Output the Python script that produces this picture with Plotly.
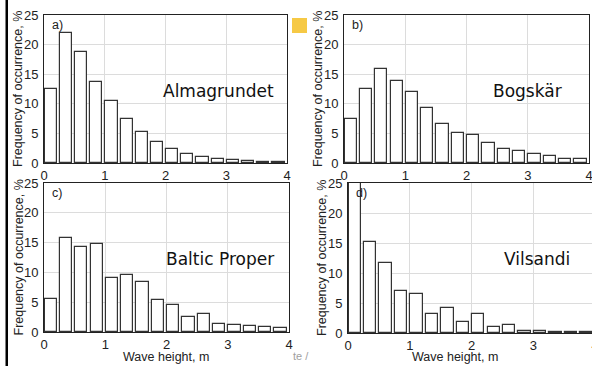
import plotly.graph_objects as go

W, H = 600, 366  # figure is slightly wider than the 592px window; right edge is cropped like the reference

# Wave height bins (left edge, m)
bins = [0.0, 0.25, 0.5, 0.75, 1.0, 1.25, 1.5, 1.75, 2.0, 2.25, 2.5, 2.75, 3.0, 3.25, 3.5, 3.75]

# Frequency of occurrence, %
almagrundet = [12.5, 21.9, 18.7, 13.6, 10.5, 7.4, 5.3, 3.5, 2.4, 1.6, 1.0, 0.7, 0.5, 0.3, 0.15, 0.1]
bogskar = [7.5, 12.5, 15.8, 13.9, 12.0, 9.3, 6.6, 5.1, 4.7, 3.3, 2.4, 2.1, 1.6, 1.2, 0.7, 0.6]
baltic_proper = [5.6, 15.7, 14.3, 14.8, 9.1, 9.5, 8.4, 5.4, 4.6, 2.6, 3.0, 1.3, 1.2, 1.0, 0.85, 0.6]
vilsandi = [30.0, 15.1, 11.6, 7.0, 6.5, 3.2, 4.1, 1.85, 3.1, 0.95, 1.3, 0.35, 0.4, 0.15, 0.2, 0.1]

x_ticks = [0, 1, 2, 3, 4]
y_ticks = [0, 5, 10, 15, 20, 25]

panels = [
    dict(vals=almagrundet, name="Almagrundet", tag="a)", px=(44, 287), py=(15, 163), xtitle=False, nx=276),
    dict(vals=bogskar, name="Bogskär", tag="b)", px=(344, 589), py=(15, 163), xtitle=False, nx=564),
    dict(vals=baltic_proper, name="Baltic Proper", tag="c)", px=(44, 289), py=(183, 332), xtitle=True, nx=276),
    dict(vals=vilsandi, name="Vilsandi", tag="d)", px=(348, 595), py=(183, 333), xtitle=True, nx=572),
]

fig = go.Figure()
font_tick = dict(family="Liberation Sans, Arial, sans-serif", size=13, color="#222")
annotations = []

for i, p in enumerate(panels, start=1):
    xa = "x" if i == 1 else f"x{i}"
    ya = "y" if i == 1 else f"y{i}"
    fig.add_trace(go.Bar(
        x=bins, y=p["vals"], offset=0.01, width=0.2,
        marker=dict(color="white", line=dict(color="#333", width=1.2)),
        xaxis=xa, yaxis=ya, showlegend=False,
    ))
    xd = [p["px"][0] / W, p["px"][1] / W]
    yd = [1 - p["py"][1] / H, 1 - p["py"][0] / H]
    common = dict(showline=True, linecolor="#222", linewidth=1, mirror=True,
                  showgrid=True, gridcolor="#dcdcdc", gridwidth=1, zeroline=False,
                  ticks="", tickfont=font_tick, automargin=False,
                  ticklabeloverflow="allow")
    fig.layout[f"xaxis{i if i > 1 else ''}"] = dict(
        domain=xd, range=[0, 4], tickvals=x_ticks, anchor=ya, ticklabelstandoff=0, **common)
    fig.layout[f"yaxis{i if i > 1 else ''}"] = dict(
        domain=yd, range=[0, 25], tickvals=y_ticks, anchor=xa, ticklabelstandoff=2, **common)

    # y-axis title
    annotations.append(dict(
        text="Frequency of occurrence, %", xref="paper", yref="paper",
        x=(p["px"][0] - 26) / W, y=1 - (p["py"][0] + p["py"][1]) / 2 / H,
        textangle=-90, showarrow=False, xanchor="center", yanchor="middle",
        font=dict(family="Liberation Sans, Arial, sans-serif", size=12.5, color="#222")))
    # panel tag
    annotations.append(dict(
        text=p["tag"], xref="paper", yref="paper",
        x=(p["px"][0] + 6) / W, y=1 - (p["py"][0] + 10) / H,
        showarrow=False, xanchor="left", yanchor="middle",
        font=dict(family="Liberation Sans, Arial, sans-serif", size=12.5, color="#222")))
    # station name
    annotations.append(dict(
        text=p["name"], xref="paper", yref="paper",
        x=p["nx"] / W, y=1 - (p["py"][0] + 76) / H,
        showarrow=False, xanchor="right", yanchor="middle",
        font=dict(family="DejaVu Sans, Verdana, sans-serif", size=17, color="#111")))
    if p["xtitle"]:
        annotations.append(dict(
            text="Wave height, m", xref="paper", yref="paper",
            x=(166 if i == 3 else 455) / W, y=1 - 357 / H,
            showarrow=False, xanchor="center", yanchor="middle",
            font=dict(family="Liberation Sans, Arial, sans-serif", size=12.5, color="#222")))

annotations.append(dict(
    text="te /", xref="paper", yref="paper", x=301 / W, y=1 - 356 / H,
    showarrow=False, xanchor="center", yanchor="middle",
    font=dict(family="Liberation Sans, Arial, sans-serif", size=11, color="#a0a0a0")))

shapes = [
    dict(type="rect", xref="paper", yref="paper", x0=5.5 / W, x1=8 / W, y0=0, y1=1,
         fillcolor="black", line=dict(width=0)),
    dict(type="rect", xref="paper", yref="paper", x0=292 / W, x1=307 / W,
         y0=1 - 33 / H, y1=1 - 18 / H, fillcolor="#f6c945", line=dict(width=0)),
]

fig.update_layout(
    width=W, height=H, margin=dict(l=0, r=0, t=0, b=0),
    paper_bgcolor="white", plot_bgcolor="white",
    annotations=annotations, shapes=shapes, bargap=0,
)

fig.write_html(
    "out.html",
    config={"displayModeBar": False},
    post_script="document.body.style.margin='0';document.body.style.overflow='hidden';",
)
